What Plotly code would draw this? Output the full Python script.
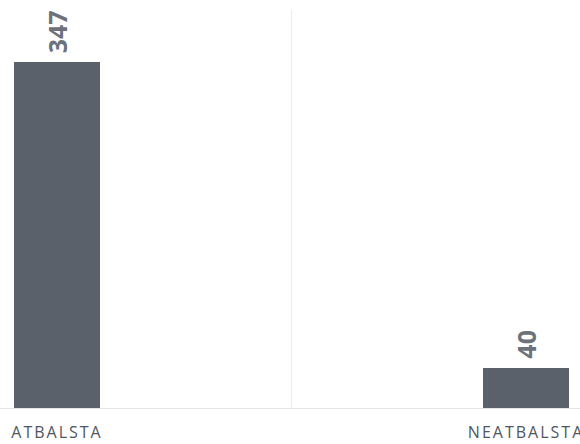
import plotly.graph_objects as go

categories = ["ATBALSTA", "NEATBALSTA"]
values = [347, 40]

BAR_COLOR = "#5b616b"
LABEL_COLOR = "#6d717a"
TICK_COLOR = "#50565f"

fig = go.Figure(
    go.Bar(
        x=categories,
        y=values,
        width=0.183,
        marker=dict(color=BAR_COLOR, line=dict(width=0)),
        hoverinfo="skip",
    )
)

for c, v in zip(categories, values):
    fig.add_annotation(
        x=c,
        y=v,
        text=str(v),
        showarrow=False,
        textangle=-90,
        xanchor="center",
        yanchor="bottom",
        yshift=7,
        font=dict(family="Open Sans", size=25, color=LABEL_COLOR, weight="bold"),
    )

fig.update_layout(
    template="none",
    width=580,
    height=444,
    margin=dict(l=0, r=0, t=10, b=36, pad=0),
    paper_bgcolor="white",
    plot_bgcolor="white",
    showlegend=False,
    bargap=0,
    xaxis=dict(
        type="category",
        range=[-0.1215, 1.115],
        tickson="boundaries",
        showgrid=True,
        gridcolor="#ececec",
        gridwidth=1,
        showline=True,
        linecolor="#e4e4e4",
        linewidth=1,
        ticks="",
        ticklabelstandoff=10,
        tickfont=dict(family="Open Sans", size=16, color=TICK_COLOR),
        zeroline=False,
        automargin=False,
        fixedrange=True,
    ),
    yaxis=dict(
        range=[0, 399],
        showgrid=False,
        showticklabels=False,
        zeroline=False,
        showline=False,
        ticks="",
        automargin=False,
        fixedrange=True,
    ),
)

post = """
document.body.style.margin='0';
document.querySelectorAll('.xtick text').forEach(function(t){t.style.letterSpacing='2px';});
"""

fig.write_html("out.html", post_script=post, config={"displayModeBar": False})
